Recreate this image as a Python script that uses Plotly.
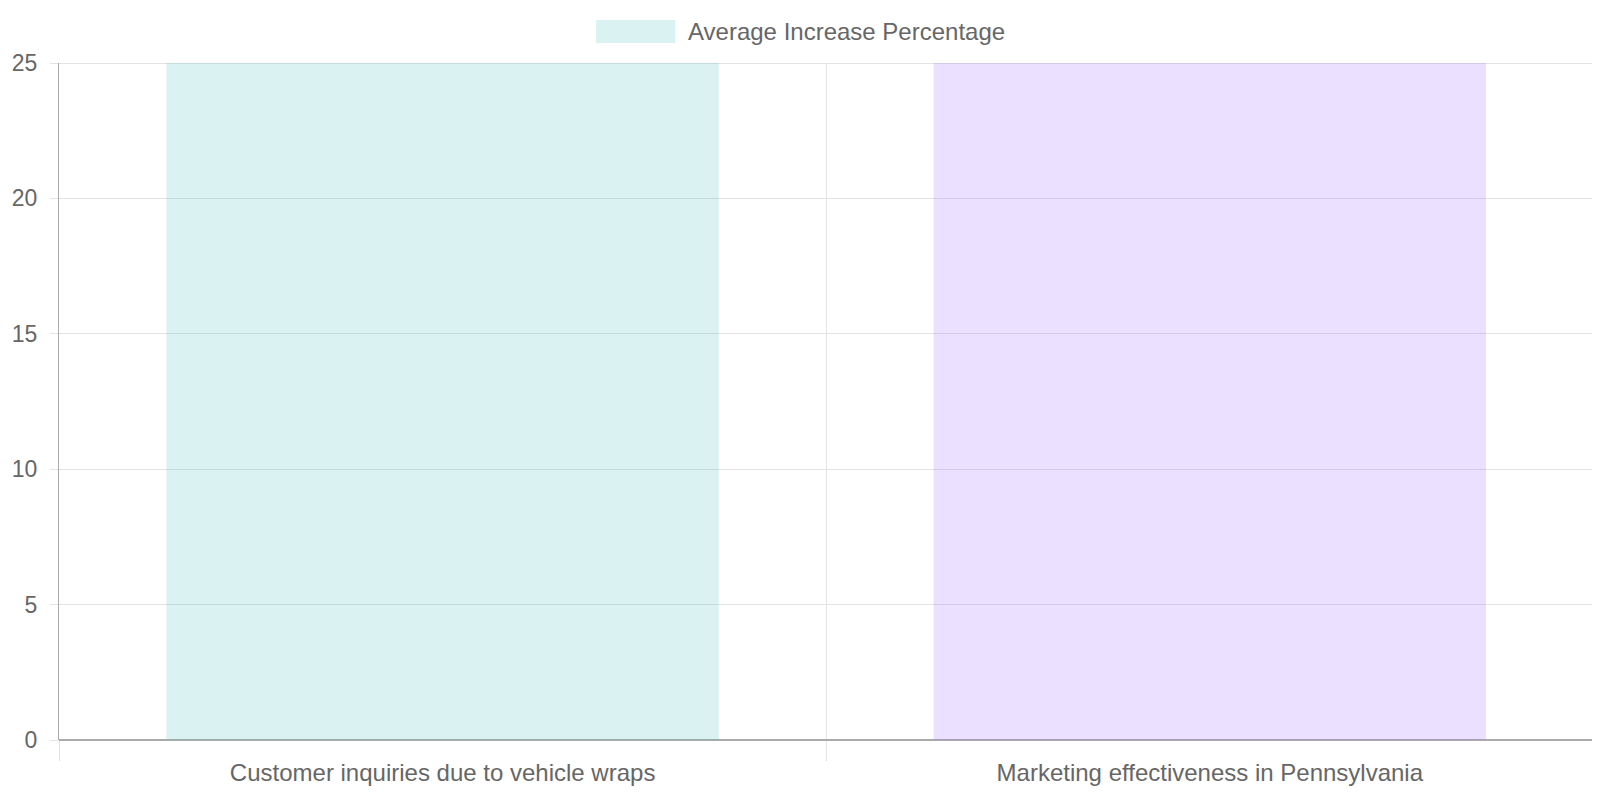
import plotly.graph_objects as go

categories = ["Customer inquiries due to vehicle wraps", "Marketing effectiveness in Pennsylvania"]
values = [25, 25]
series_name = "Average Increase Percentage"
y_ticks = [0, 5, 10, 15, 20, 25]

fill_colors = ["rgba(75,192,192,0.2)", "rgba(153,102,255,0.2)"]

FONT = "Liberation Sans, Arial, sans-serif"
TXT = "#666666"
GRID = "#e3e3e3"
W, H = 1600, 800
ML, MR, MT, MB = 51, 0, 55, 68
PW, PH = W - ML - MR, H - MT - MB
X_RANGE = [-0.5, 1.519]
boundaries = [i - 0.5 for i in range(len(categories))]


def px(x):
    return (x - ML) / PW


def py(y):
    return (H - MB - y) / PH


fig = go.Figure()
fig.add_trace(go.Bar(
    x=categories, y=values, name=series_name,
    marker=dict(color=fill_colors, line=dict(width=0)),
    width=0.72, showlegend=False, hoverinfo="x+y",
))
# invisible trace carrying the boundary grid axis
fig.add_trace(go.Scatter(x=[X_RANGE[0]], y=[0], xaxis="x2", mode="markers",
                         marker=dict(opacity=0), showlegend=False, hoverinfo="skip"))

# legend drawn as a box + label
fig.add_shape(type="rect", xref="paper", yref="paper",
              x0=px(588), x1=px(667), y0=py(35), y1=py(12),
              fillcolor=fill_colors[0], line=dict(width=0))
fig.add_annotation(xref="paper", yref="paper",
                   x=px(678), y=py(23.5),
                   xanchor="left", yanchor="middle", showarrow=False,
                   text=series_name, font=dict(family=FONT, size=24, color=TXT))
# top grid line at the range max
fig.add_shape(type="line", xref="paper", yref="y", x0=0, x1=1, y0=y_ticks[-1], y1=y_ticks[-1],
              line=dict(color=GRID, width=2), layer="below")

fig.update_layout(
    width=W, height=H,
    margin=dict(l=ML, r=MR, t=MT, b=MB, autoexpand=False),
    paper_bgcolor="white", plot_bgcolor="white",
    font=dict(family=FONT, size=24, color=TXT),
    xaxis=dict(
        type="category", range=X_RANGE,
        showgrid=False, ticks="", showline=False, zeroline=False, automargin=False,
        tickfont=dict(family=FONT, size=24, color=TXT),
        ticklabelstandoff=16,
    ),
    xaxis2=dict(
        overlaying="x", side="bottom", anchor="y", range=X_RANGE,
        tickvals=boundaries, showticklabels=False,
        showgrid=True, gridcolor=GRID, gridwidth=1,
        ticks="outside", ticklen=20, tickcolor=GRID,
        showline=False, zeroline=False, automargin=False,
    ),
    yaxis=dict(
        range=[0, 25], tickvals=y_ticks, automargin=False,
        showgrid=True, gridcolor=GRID, gridwidth=1,
        ticks="outside", ticklen=8, tickcolor=GRID,
        showline=True, linecolor="#aaaaaa", linewidth=1,
        zeroline=True, zerolinecolor="#aaaaaa", zerolinewidth=2,
        tickfont=dict(family=FONT, size=23, color=TXT),
        ticklabelstandoff=8,
    ),
)

fig.write_html("out.html")
